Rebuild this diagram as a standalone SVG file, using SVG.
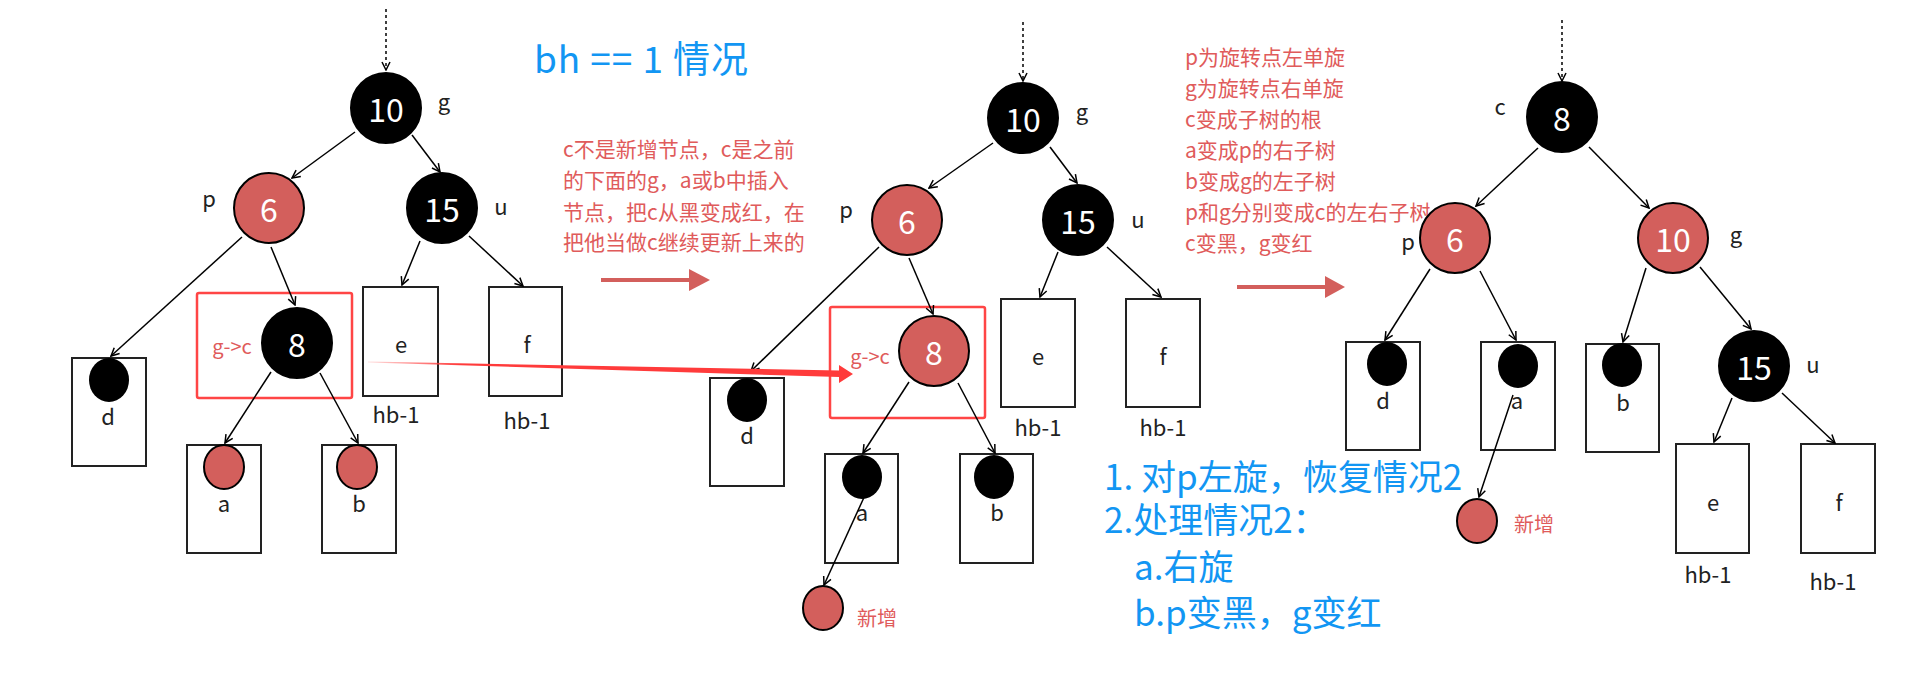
<svg xmlns="http://www.w3.org/2000/svg" width="1910" height="688" viewBox="0 0 1910 688">
<style>
text{font-family:"Noto Sans CJK SC","Noto Sans",sans-serif}
.num{fill:#fff;font-size:32px;text-anchor:middle;dominant-baseline:central}
.lbl{fill:#222;font-size:22px;text-anchor:middle;dominant-baseline:central}
.nt{fill:#e05b5b;font-size:21px}
.gc{fill:#e05b5b;font-size:20px;text-anchor:middle;dominant-baseline:central}
.blue{fill:#1296f3;font-size:35px}
.blk{fill:#000;stroke:#000;stroke-width:2}
.red{fill:#d35f5c;stroke:#000;stroke-width:2}
.sblk{fill:#000}
.box{fill:none;stroke:#222;stroke-width:2}
.rbox{fill:none;stroke:#ff4545;stroke-width:2.5}
.edge{stroke:#000;stroke-width:1.5;fill:none;marker-end:url(#ah)}
.dot{stroke:#000;stroke-width:1.5;stroke-dasharray:3 3;fill:none;marker-end:url(#ah)}
.rarrow{stroke:#d35f5c;stroke-width:4}
</style>
<defs>
<marker id="ah" viewBox="0 0 10 10" refX="9" refY="5" markerWidth="10" markerHeight="10" markerUnits="userSpaceOnUse" orient="auto"><path d="M1,1 L9,5 L1,9" fill="none" stroke="#000" stroke-width="1.5"/></marker>
<linearGradient id="fade" gradientUnits="userSpaceOnUse" x1="368" y1="0" x2="460" y2="0"><stop offset="0" stop-color="#ff3b3b" stop-opacity="0.15"/><stop offset="1" stop-color="#ff3b3b" stop-opacity="1"/></linearGradient>
</defs>
<rect width="1910" height="688" fill="#fff"/>

<text x="534" y="73" fill="#1296f3" font-size="37" textLength="214" lengthAdjust="spacing">bh == 1 情况</text>

<g id="note1">
<text class="nt" x="563" y="157">c不是新增节点，c是之前</text>
<text class="nt" x="563" y="188">的下面的g，a或b中插入</text>
<text class="nt" x="563" y="220">节点，把c从黑变成红，在</text>
<text class="nt" x="563" y="250">把他当做c继续更新上来的</text>
</g>
<g id="note2">
<text class="nt" x="1185" y="65">p为旋转点左单旋</text>
<text class="nt" x="1185" y="96">g为旋转点右单旋</text>
<text class="nt" x="1185" y="127">c变成子树的根</text>
<text class="nt" x="1185" y="158">a变成p的右子树</text>
<text class="nt" x="1185" y="189">b变成g的左子树</text>
<text class="nt" x="1185" y="220">p和g分别变成c的左右子树</text>
<text class="nt" x="1185" y="251">c变黑，g变红</text>
</g>
<g id="note3">
<text class="blue" x="1104" y="490">1. 对p左旋，恢复情况2</text>
<text class="blue" x="1104" y="533">2.处理情况2：</text>
<text class="blue" x="1134" y="580">a.右旋</text>
<text class="blue" x="1134" y="626">b.p变黑，g变红</text>
</g>

<g id="step-arrows">
<line class="rarrow" x1="601" y1="280" x2="690" y2="280"/>
<polygon points="689,269 710,280 689,291" fill="#d35f5c"/>
<line class="rarrow" x1="1237" y1="287" x2="1326" y2="287"/>
<polygon points="1325,276 1345,287 1325,298" fill="#d35f5c"/>
</g>

<!-- tree 1 -->
<g id="t1-box-d"><rect class="box" x="72" y="358" width="74" height="108"/><ellipse class="sblk" cx="109" cy="380" rx="20" ry="22"/><text class="lbl" x="108" y="415">d</text></g>
<g id="t1-box-a"><rect class="box" x="187" y="445" width="74" height="108"/><ellipse class="red" cx="224" cy="467" rx="20" ry="22"/><text class="lbl" x="224" y="502">a</text></g>
<g id="t1-box-b"><rect class="box" x="322" y="445" width="74" height="108"/><ellipse class="red" cx="357" cy="467" rx="20" ry="22"/><text class="lbl" x="359" y="502">b</text></g>
<g id="t1-box-e"><rect class="box" x="363" y="287" width="75" height="109"/><text class="lbl" x="401" y="343">e</text><text class="lbl" x="396" y="413">hb-1</text></g>
<g id="t1-box-f"><rect class="box" x="489" y="287" width="73" height="109"/><text class="lbl" x="527" y="343">f</text><text class="lbl" x="527" y="419">hb-1</text></g>

<g id="t1-n10"><circle class="blk" cx="386" cy="108" r="35"/><text class="num" x="386" y="108">10</text><text class="lbl" x="444" y="100">g</text></g>
<g id="t1-n6"><circle class="red" cx="269" cy="208" r="35"/><text class="num" x="269" y="208">6</text><text class="lbl" x="209" y="197">p</text></g>
<g id="t1-n15"><circle class="blk" cx="442" cy="208" r="35"/><text class="num" x="442" y="208">15</text><text class="lbl" x="501" y="205">u</text></g>
<g id="t1-n8"><rect class="rbox" x="197" y="293" width="155" height="105" rx="2"/><circle class="blk" cx="297" cy="343" r="35"/><text class="num" x="297" y="343">8</text><text class="gc" x="232" y="345">g-&gt;c</text></g>

<!-- tree 2 -->
<g id="t2-box-d"><rect class="box" x="710" y="378" width="74" height="108"/><ellipse class="sblk" cx="747" cy="400" rx="20" ry="22"/><text class="lbl" x="747" y="434">d</text></g>
<g id="t2-box-a"><rect class="box" x="825" y="454" width="73" height="109"/><ellipse class="sblk" cx="862" cy="477" rx="20" ry="22"/><text class="lbl" x="862" y="511">a</text></g>
<g id="t2-box-b"><rect class="box" x="960" y="454" width="73" height="109"/><ellipse class="sblk" cx="994" cy="477" rx="20" ry="22"/><text class="lbl" x="997" y="511">b</text></g>
<g id="t2-box-e"><rect class="box" x="1001" y="299" width="74" height="108"/><text class="lbl" x="1038" y="355">e</text><text class="lbl" x="1038" y="426">hb-1</text></g>
<g id="t2-box-f"><rect class="box" x="1126" y="299" width="74" height="108"/><text class="lbl" x="1163" y="355">f</text><text class="lbl" x="1163" y="426">hb-1</text></g>
<g id="t2-new"><ellipse class="red" cx="823" cy="608" rx="20" ry="22"/><text class="gc" x="877" y="617">新增</text></g>

<g id="t2-n10"><circle class="blk" cx="1023" cy="118" r="35"/><text class="num" x="1023" y="118">10</text><text class="lbl" x="1082" y="110">g</text></g>
<g id="t2-n6"><circle class="red" cx="907" cy="220" r="35"/><text class="num" x="907" y="220">6</text><text class="lbl" x="846" y="208">p</text></g>
<g id="t2-n15"><circle class="blk" cx="1078" cy="220" r="35"/><text class="num" x="1078" y="220">15</text><text class="lbl" x="1138" y="218">u</text></g>
<g id="t2-n8"><rect class="rbox" x="830" y="307" width="155" height="111" rx="2"/><circle class="red" cx="934" cy="351" r="35"/><text class="num" x="934" y="351">8</text><text class="gc" x="870" y="355">g-&gt;c</text></g>

<!-- tree 3 -->
<g id="t3-box-d"><rect class="box" x="1346" y="342" width="74" height="108"/><ellipse class="sblk" cx="1387" cy="364" rx="20" ry="22"/><text class="lbl" x="1383" y="399">d</text></g>
<g id="t3-box-a"><rect class="box" x="1481" y="342" width="74" height="108"/><ellipse class="sblk" cx="1518" cy="366" rx="20" ry="22"/><text class="lbl" x="1517" y="399">a</text></g>
<g id="t3-box-b"><rect class="box" x="1586" y="344" width="73" height="108"/><ellipse class="sblk" cx="1622" cy="365" rx="20" ry="22"/><text class="lbl" x="1623" y="401">b</text></g>
<g id="t3-box-e"><rect class="box" x="1676" y="444" width="73" height="109"/><text class="lbl" x="1713" y="501">e</text><text class="lbl" x="1708" y="573">hb-1</text></g>
<g id="t3-box-f"><rect class="box" x="1801" y="444" width="74" height="109"/><text class="lbl" x="1839" y="501">f</text><text class="lbl" x="1833" y="580">hb-1</text></g>
<g id="t3-new"><ellipse class="red" cx="1477" cy="521" rx="20" ry="22"/><text class="gc" x="1534" y="523">新增</text></g>

<g id="t3-n8"><circle class="blk" cx="1562" cy="117" r="35"/><text class="num" x="1562" y="117">8</text><text class="lbl" x="1500" y="105">c</text></g>
<g id="t3-n6"><circle class="red" cx="1455" cy="238" r="35"/><text class="num" x="1455" y="238">6</text><text class="lbl" x="1408" y="240">p</text></g>
<g id="t3-n10"><circle class="red" cx="1673" cy="238" r="35"/><text class="num" x="1673" y="238">10</text><text class="lbl" x="1736" y="233">g</text></g>
<g id="t3-n15"><circle class="blk" cx="1754" cy="366" r="35"/><text class="num" x="1754" y="366">15</text><text class="lbl" x="1813" y="363">u</text></g>

<g id="connectors">
<line class="dot" x1="386" y1="9" x2="386" y2="70"/>
<line class="edge" x1="355" y1="132" x2="292" y2="178"/>
<line class="edge" x1="412" y1="135" x2="440" y2="172"/>
<line class="edge" x1="242" y1="237" x2="111" y2="356"/>
<line class="edge" x1="271" y1="247" x2="295" y2="305"/>
<line class="edge" x1="420" y1="241" x2="402" y2="285"/>
<line class="edge" x1="469" y1="236" x2="523" y2="286"/>
<line class="edge" x1="271" y1="372" x2="225" y2="443"/>
<line class="edge" x1="320" y1="373" x2="358" y2="443"/>

<line class="dot" x1="1023" y1="22" x2="1023" y2="81"/>
<line class="edge" x1="993" y1="143" x2="929" y2="188"/>
<line class="edge" x1="1050" y1="147" x2="1077" y2="183"/>
<line class="edge" x1="879" y1="247" x2="751" y2="371"/>
<line class="edge" x1="909" y1="258" x2="933" y2="314"/>
<line class="edge" x1="1058" y1="252" x2="1040" y2="297"/>
<line class="edge" x1="1107" y1="247" x2="1161" y2="297"/>
<line class="edge" x1="909" y1="382" x2="863" y2="453"/>
<line class="edge" x1="958" y1="383" x2="995" y2="453"/>
<line class="edge" x1="866" y1="493" x2="824" y2="585"/>

<line class="dot" x1="1562" y1="20" x2="1562" y2="81"/>
<line class="edge" x1="1538" y1="148" x2="1476" y2="206"/>
<line class="edge" x1="1589" y1="147" x2="1649" y2="208"/>
<line class="edge" x1="1430" y1="269" x2="1385" y2="340"/>
<line class="edge" x1="1480" y1="271" x2="1516" y2="340"/>
<line class="edge" x1="1646" y1="268" x2="1623" y2="342"/>
<line class="edge" x1="1700" y1="267" x2="1751" y2="329"/>
<line class="edge" x1="1732" y1="398" x2="1714" y2="442"/>
<line class="edge" x1="1782" y1="393" x2="1835" y2="443"/>
<line class="edge" x1="1513" y1="395" x2="1479" y2="497"/>

<polygon id="move-arrow" points="368,361.5 839,370.5 839,365 853,374 839,383 839,377 368,362.5" fill="url(#fade)"/>
</g>
</svg>
